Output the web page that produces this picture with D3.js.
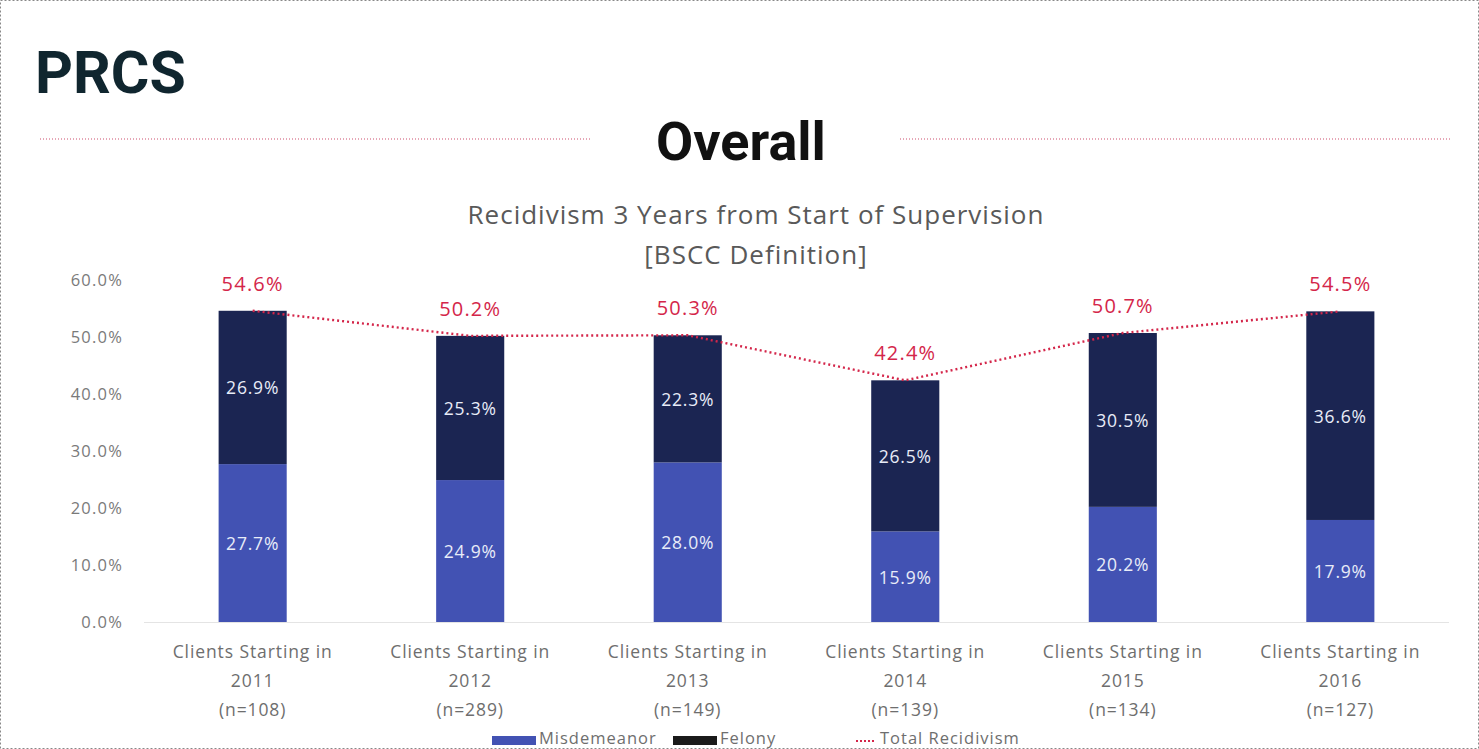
<!DOCTYPE html>
<html>
<head>
<meta charset="utf-8">
<script src="https://cdn.jsdelivr.net/npm/d3@7"></script>
<style>
  html, body { margin: 0; padding: 0; background: #fff; }
  svg { display: block; }
</style>
</head>
<body>
<svg id="chart" width="1479" height="749"></svg>
<script>
// Recidivism 3 years from start of supervision, by starting cohort
const categories = ["2011", "2012", "2013", "2014", "2015", "2016"];
const cohortSizes = [108, 289, 149, 139, 134, 127];
const misdemeanor = [27.7, 24.9, 28.0, 15.9, 20.2, 17.9];
const felony = [26.9, 25.3, 22.3, 26.5, 30.5, 36.6];
const totalRecidivism = [54.6, 50.2, 50.3, 42.4, 50.7, 54.5];
const yTicks = [0, 10, 20, 30, 40, 50, 60];
const seriesNames = ["Misdemeanor", "Felony", "Total Recidivism"];

const W = 1479, H = 749;
const svg = d3.select("#chart");
const colors = { misd: "#4252b3", fel: "#1b2552", total: "#d4264a" };
const labelFont = "'Open Sans', 'Noto Sans', sans-serif";

// Page frame
svg.append("rect")
  .attr("x", 0.5).attr("y", 0.5).attr("width", W - 1).attr("height", H - 1)
  .attr("fill", "#fff").attr("stroke", "#888").attr("stroke-dasharray", "2,2");

// Page heading
svg.append("text")
  .attr("x", 35).attr("y", 93)
  .attr("font-family", "Roboto, sans-serif").attr("font-weight", 700)
  .attr("font-size", 59).attr("fill", "#10262f")
  .text("PRCS");

// Section divider lines
[[40, 590], [900, 1450]].forEach(([x1, x2]) => {
  svg.append("line")
    .attr("x1", x1).attr("x2", x2).attr("y1", 139).attr("y2", 139)
    .attr("stroke", "#e6a6b6").attr("stroke-width", 2).attr("stroke-dasharray", "1,2");
});

svg.append("text")
  .attr("x", 741).attr("y", 160).attr("text-anchor", "middle")
  .attr("font-family", "Roboto, sans-serif").attr("font-weight", 700)
  .attr("font-size", 54).attr("fill", "#111")
  .text("Overall");

// Chart title
const titleAttrs = t => t.attr("text-anchor", "middle")
  .attr("font-family", labelFont).attr("font-size", 26).attr("letter-spacing", 1)
  .attr("fill", "#595959");
svg.append("text").attr("x", 756).attr("y", 224).call(titleAttrs)
  .text("Recidivism 3 Years from Start of Supervision");
svg.append("text").attr("x", 756).attr("y", 264).call(titleAttrs)
  .text("[BSCC Definition]");

// Scales
const x = d3.scaleBand().domain(categories).range([144, 1449]).paddingInner(0.687).paddingOuter(0.343);
const y = d3.scaleLinear().domain([0, 60]).range([622, 280]);

// Y axis
const yAxis = svg.append("g").attr("transform", "translate(123,0)")
  .call(d3.axisLeft(y).tickValues(yTicks).tickFormat(d => d3.format(".1f")(d) + "%").tickSize(0).tickPadding(0));
yAxis.select(".domain").remove();
yAxis.selectAll("text")
  .attr("font-family", labelFont).attr("font-size", 16.5).attr("letter-spacing", 1.2)
  .attr("fill", "#7a7a7a");

// Baseline
svg.append("line")
  .attr("x1", 144).attr("x2", 1449).attr("y1", y(0) + 0.5).attr("y2", y(0) + 0.5)
  .attr("stroke", "#e4e4e4");

// Stacked bars
const rows = categories.map((c, i) => ({ cat: c, misd: misdemeanor[i], fel: felony[i], total: totalRecidivism[i] }));
const stack = d3.stack().keys(["misd", "fel"])(rows);

const layers = svg.append("g").selectAll("g").data(stack).join("g")
  .attr("fill", d => colors[d.key]);
layers.selectAll("rect").data(d => d).join("rect")
  .attr("x", d => x(d.data.cat))
  .attr("width", x.bandwidth())
  .attr("y", d => y(d[1]))
  .attr("height", d => y(d[0]) - y(d[1]));

// Segment value labels
layers.selectAll("text").data(d => d.map(p => ({ p, key: d.key }))).join("text")
  .attr("x", d => x(d.p.data.cat) + x.bandwidth() / 2)
  .attr("y", d => (y(d.p[0]) + y(d.p[1])) / 2 + 7)
  .attr("text-anchor", "middle")
  .attr("font-family", labelFont).attr("font-size", 17.5).attr("letter-spacing", 0.8)
  .attr("fill", "#e8ecf8")
  .text(d => d3.format(".1f")(d.p.data[d.key]) + "%");

// Total recidivism line
const line = d3.line()
  .x(d => x(d.cat) + x.bandwidth() / 2)
  .y(d => y(d.total));
svg.append("path").datum(rows)
  .attr("d", line).attr("fill", "none")
  .attr("stroke", colors.total).attr("stroke-width", 2.4).attr("stroke-dasharray", "2,3");

svg.append("g").selectAll("text").data(rows).join("text")
  .attr("x", d => x(d.cat) + x.bandwidth() / 2)
  .attr("y", d => y(d.total) - 20)
  .attr("text-anchor", "middle")
  .attr("font-family", labelFont).attr("font-size", 20).attr("letter-spacing", 1.2)
  .attr("fill", colors.total)
  .text(d => d3.format(".1f")(d.total) + "%");

// Category labels
const xLabels = svg.append("g").selectAll("text").data(categories).join("text")
  .attr("x", d => x(d) + x.bandwidth() / 2)
  .attr("text-anchor", "middle")
  .attr("font-family", labelFont).attr("font-size", 17.5).attr("letter-spacing", 0.9)
  .attr("fill", "#6e6e6e");
xLabels.each(function (d, i) {
  const t = d3.select(this);
  ["Clients Starting in", d, `(n=${cohortSizes[i]})`].forEach((s, k) => {
    t.append("tspan").attr("x", x(d) + x.bandwidth() / 2).attr("y", 658 + k * 29).text(s);
  });
});

// Legend
const legend = svg.append("g").attr("font-family", labelFont).attr("font-size", 16.5)
  .attr("letter-spacing", 1).attr("fill", "#6e6e6e");
const legendItems = [
  { name: seriesNames[0], x: 492, kind: "rect", color: colors.misd },
  { name: seriesNames[1], x: 673, kind: "rect", color: "#1a1a1a" },
  { name: seriesNames[2], x: 856, kind: "line", color: colors.total }
];
legendItems.forEach(it => {
  if (it.kind === "rect") {
    legend.append("rect").attr("x", it.x).attr("y", 736).attr("width", 44).attr("height", 9).attr("fill", it.color);
  } else {
    legend.append("line").attr("x1", it.x).attr("x2", it.x + 20).attr("y1", 741).attr("y2", 741)
      .attr("stroke", it.color).attr("stroke-width", 2).attr("stroke-dasharray", "2,2");
  }
  legend.append("text").attr("x", it.x + (it.kind === "rect" ? 47 : 24)).attr("y", 744).text(it.name);
});
</script>
</body>
</html>
